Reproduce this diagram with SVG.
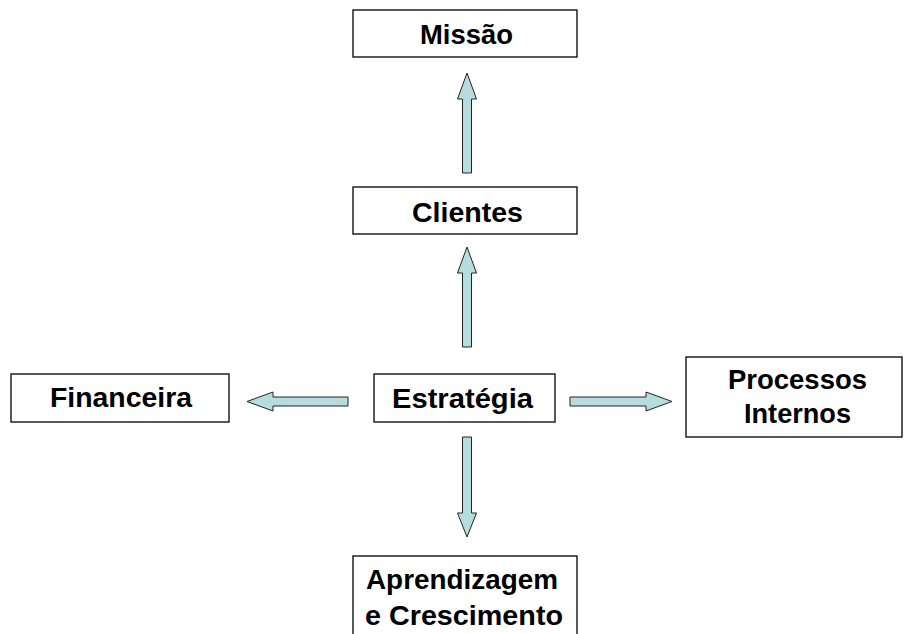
<svg xmlns="http://www.w3.org/2000/svg" width="904" height="634" viewBox="0 0 904 634">
  <style>
    .box { fill: #ffffff; stroke: #000000; stroke-width: 1.3; }
    .lbl { font-family: "Liberation Sans", Arial, sans-serif; font-weight: bold; font-size: 28px; fill: #000000; text-anchor: middle; }
    .arrow { fill: #b6dddd; stroke: #222222; stroke-width: 1; stroke-linejoin: miter; }
  </style>
  <rect width="904" height="634" fill="#ffffff"/>

  <!-- block arrows -->
  <g id="connectors">
    <!-- Clientes to Missão -->
    <path class="arrow" d="M467,73 L476.5,99 L471.5,99 L471.5,173 L462.5,173 L462.5,99 L457.5,99 Z"/>
    <!-- Estratégia to Clientes -->
    <path class="arrow" d="M467,247 L476.5,273 L471.5,273 L471.5,347 L462.5,347 L462.5,273 L457.5,273 Z"/>
    <!-- Estratégia to Financeira -->
    <path class="arrow" d="M247,401.5 L273,392 L273,397 L348,397 L348,406 L273,406 L273,411 Z"/>
    <!-- Estratégia to Processos Internos -->
    <path class="arrow" d="M672,401.5 L646,392 L646,397 L570,397 L570,406 L646,406 L646,411 Z"/>
    <!-- Estratégia to Aprendizagem e Crescimento -->
    <path class="arrow" d="M467,537 L476.5,513 L471.5,513 L471.5,437 L462.5,437 L462.5,513 L457.5,513 Z"/>
  </g>

  <g id="missao">
    <rect class="box" x="353" y="10" width="224" height="47"/>
    <text class="lbl" x="466.5" y="44" textLength="93" lengthAdjust="spacingAndGlyphs">Missão</text>
  </g>

  <g id="clientes">
    <rect class="box" x="353" y="187" width="224" height="47"/>
    <text class="lbl" x="467.5" y="222" textLength="111" lengthAdjust="spacingAndGlyphs">Clientes</text>
  </g>

  <g id="financeira">
    <rect class="box" x="11" y="374" width="218" height="48"/>
    <text class="lbl" x="121" y="407" textLength="142" lengthAdjust="spacingAndGlyphs">Financeira</text>
  </g>

  <g id="estrategia">
    <rect class="box" x="374" y="374" width="181" height="48"/>
    <text class="lbl" x="462.5" y="408" textLength="141" lengthAdjust="spacingAndGlyphs">Estratégia</text>
  </g>

  <g id="processos-internos">
    <rect class="box" x="686" y="357" width="216" height="80"/>
    <text class="lbl" x="797.5" y="389" textLength="139" lengthAdjust="spacingAndGlyphs">Processos</text>
    <text class="lbl" x="797.5" y="423" textLength="107" lengthAdjust="spacingAndGlyphs">Internos</text>
  </g>

  <g id="aprendizagem-crescimento">
    <rect class="box" x="353" y="556" width="224" height="90"/>
    <text class="lbl" x="462" y="589" textLength="192" lengthAdjust="spacingAndGlyphs">Aprendizagem</text>
    <text class="lbl" x="464" y="625" textLength="198" lengthAdjust="spacingAndGlyphs">e Crescimento</text>
  </g>
</svg>
